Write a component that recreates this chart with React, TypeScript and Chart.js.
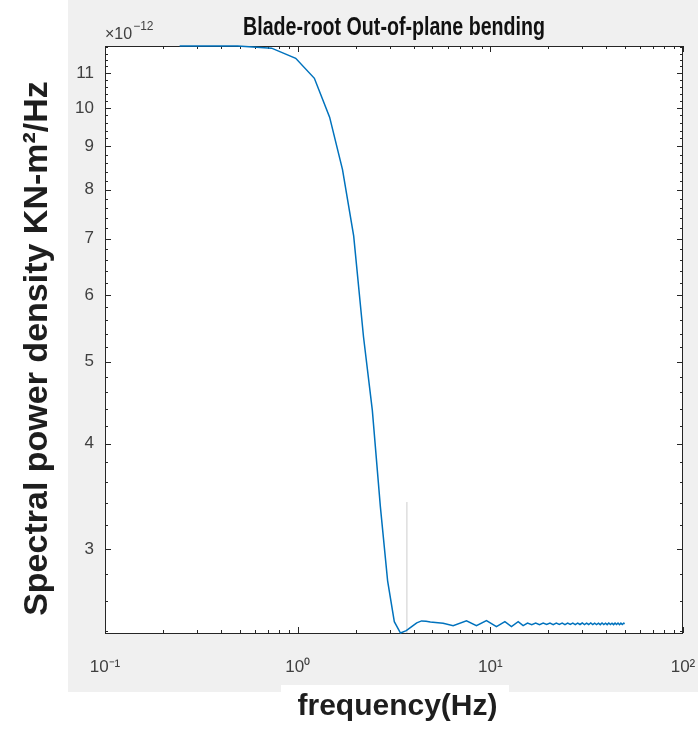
import React, { useEffect, useRef } from "react";
import { Chart, registerables } from "chart.js";

Chart.register(...registerables);

// ---- data (frequency in Hz, PSD in units of 1e-12 KN-m^2/Hz) ----
const FREQ_HZ = [
  0.244, 0.488, 0.732, 0.977, 1.221, 1.465, 1.709, 1.953, 2.197, 2.441,
  2.686, 2.93, 3.174, 3.418, 3.662, 3.906, 4.15, 4.395, 4.639, 4.883,
  5.69, 6.41, 7.52, 8.47, 9.55, 10.76, 11.9, 12.87, 13.95, 14.8,
  15.6, 16.4, 17.2, 18.0, 18.8, 19.6, 20.4, 21.2, 22.0, 22.8,
  23.6, 24.4, 25.2, 26.0, 26.8, 27.6, 28.4, 29.2, 30.0, 30.8,
  31.6, 32.4, 33.2, 34.0, 34.8, 35.6, 36.4, 37.2, 38.0, 38.8,
  39.6, 40.4, 41.2, 42.0, 42.8, 43.6, 44.4, 45.2, 46.0, 46.8,
  47.6, 48.4, 49.2, 49.8,
];
const PSD_E12 = [
  11.84, 11.84, 11.77, 11.45, 10.84, 9.75, 8.45, 7.05, 5.35, 4.38,
  3.37, 2.75, 2.46, 2.385, 2.4, 2.427, 2.452, 2.465, 2.462, 2.457,
  2.449, 2.433, 2.465, 2.433, 2.467, 2.427, 2.46, 2.427, 2.46, 2.433,
  2.45, 2.44, 2.451, 2.44, 2.45, 2.441, 2.451, 2.44, 2.45, 2.441,
  2.45, 2.44, 2.451, 2.441, 2.45, 2.44, 2.45, 2.441, 2.451, 2.44,
  2.45, 2.441, 2.451, 2.44, 2.45, 2.441, 2.45, 2.44, 2.451, 2.441,
  2.45, 2.44, 2.451, 2.441, 2.45, 2.44, 2.45, 2.441, 2.451, 2.44,
  2.45, 2.441, 2.45, 2.446,
];
// faint vertical marker visible in the original figure
const MARKER_FREQ = [3.69, 3.69];
const MARKER_PSD = [2.385, 3.41];

const X_MIN = 0.1;
const X_MAX = 100;
const Y_MIN = 2.385;
const Y_MAX = 11.84;
const X_TICKS = [0.1, 1, 10, 100];
const X_TICK_LABELS = ["10⁻¹", "10⁰", "10¹", "10²"];
const Y_TICKS = [3, 4, 5, 6, 7, 8, 9, 10, 11];
const Y_TICK_LABELS = ["3", "4", "5", "6", "7", "8", "9", "10", "11"];

const TITLE = "Blade-root Out-of-plane bending";
const X_TITLE = "frequency(Hz)";
const Y_TITLE = "Spectral power density KN-m²/Hz";

const W = 698;
const H = 729;

const decorPlugin = {
  id: "decor",
  beforeDraw(chart: any) {
    const { ctx, chartArea: a } = chart;
    ctx.save();
    ctx.fillStyle = "#ffffff";
    ctx.fillRect(0, 0, W, H);
    ctx.fillStyle = "#f0f0f0";
    ctx.fillRect(68, 0, W - 68, 692);
    ctx.fillStyle = "#ffffff";
    ctx.fillRect(281, 685, 228, 8);
    ctx.fillRect(a.left, a.top, a.right - a.left, a.bottom - a.top);
    ctx.restore();
  },
  beforeDatasetsDraw(chart: any) {
    const { ctx, chartArea: a, scales } = chart;
    const xs = scales.x;
    const ys = scales.y;
    ctx.save();
    ctx.strokeStyle = "#262626";
    ctx.lineWidth = 1;
    ctx.beginPath();
    const xt = (v: number, len: number) => {
      const p = Math.round(xs.getPixelForValue(v)) + 0.5;
      ctx.moveTo(p, a.bottom);
      ctx.lineTo(p, a.bottom - len);
      ctx.moveTo(p, a.top);
      ctx.lineTo(p, a.top + len);
    };
    const yt = (v: number, len: number) => {
      const p = Math.round(ys.getPixelForValue(v)) + 0.5;
      ctx.moveTo(a.left, p);
      ctx.lineTo(a.left + len, p);
      ctx.moveTo(a.right, p);
      ctx.lineTo(a.right - len, p);
    };
    for (let d = 0.1; d < 100; d *= 10) {
      for (let k = 2; k <= 9; k++) xt(d * k, 3);
    }
    X_TICKS.forEach((v) => xt(v, 6));
    for (let i = 12; i <= 59; i++) {
      const v = i / 5;
      if (v > Y_MIN && v < Y_MAX && Math.abs(v - Math.round(v)) > 1e-6) yt(v, 3);
    }
    Y_TICKS.forEach((v) => yt(v, 6));
    ctx.stroke();
    ctx.strokeRect(a.left + 0.5, a.top + 0.5, a.right - a.left - 1, a.bottom - a.top);
    ctx.restore();
  },
  afterDraw(chart: any) {
    const { ctx } = chart;
    ctx.save();
    // title (condensed bold)
    ctx.fillStyle = "#111111";
    ctx.font = 'bold 25px "Liberation Sans", Arial, sans-serif';
    ctx.textAlign = "center";
    ctx.textBaseline = "alphabetic";
    ctx.save();
    ctx.translate(394, 35);
    ctx.scale(0.785, 1);
    ctx.fillText(TITLE, 0, 0);
    ctx.restore();

    // exponent
    ctx.fillStyle = "#404040";
    ctx.textAlign = "left";
    ctx.font = '16px "Liberation Sans", Arial, sans-serif';
    ctx.fillText("×10", 105, 39);
    const w = ctx.measureText("×10").width;
    ctx.font = '12px "Liberation Sans", Arial, sans-serif';
    ctx.fillText("−12", 105 + w + 1, 30);

    // x title
    ctx.fillStyle = "#1e1e1e";
    ctx.font = 'bold 30px "Liberation Sans", Arial, sans-serif';
    ctx.textAlign = "center";
    ctx.fillText(X_TITLE, 397.5, 715);

    // y title
    ctx.save();
    ctx.translate(47, 348.5);
    ctx.rotate(-Math.PI / 2);
    ctx.font = 'bold 34px "Liberation Sans", Arial, sans-serif';
    ctx.fillText(Y_TITLE, 0, 0);
    ctx.restore();
    ctx.restore();
  },
};

export default function App() {
  const ref = useRef<HTMLCanvasElement | null>(null);
  useEffect(() => {
    document.body.style.margin = "0";
    const canvas = ref.current;
    if (!canvas) return;
    const chart = new Chart(canvas, {
      type: "line",
      data: {
        datasets: [
          {
            data: FREQ_HZ.map((f, i) => ({ x: f, y: PSD_E12[i] })),
            borderColor: "#0072BD",
            borderWidth: 1.5,
            pointRadius: 0,
            tension: 0,
            fill: false,
            clip: false as any,
          },
          {
            data: MARKER_FREQ.map((f, i) => ({ x: f, y: MARKER_PSD[i] })),
            borderColor: "#cdcdcd",
            borderWidth: 1,
            pointRadius: 0,
            tension: 0,
            fill: false,
          },
        ],
      },
      options: {
        animation: false,
        responsive: false,
        devicePixelRatio: 1,
        layout: { padding: { left: 0, top: 46, right: 15, bottom: 0 } },
        plugins: {
          legend: { display: false },
          tooltip: { enabled: false },
          title: { display: false },
        },
        scales: {
          x: {
            type: "logarithmic",
            min: X_MIN,
            max: X_MAX,
            offset: false,
            grid: { display: false, drawTicks: false, offset: false },
            border: { display: false },
            afterBuildTicks: (s: any) => {
              s.ticks = X_TICKS.map((v) => ({ value: v, major: true }));
            },
            afterFit: (s: any) => {
              s.height = H - 633;
              s.paddingLeft = 0;
              s.paddingRight = 0;
            },
            ticks: {
              autoSkip: false,
              maxRotation: 0,
              minRotation: 0,
              padding: 24,
              color: "#404040",
              font: { family: '"Liberation Sans", Arial, sans-serif', size: 17 },
              callback: (_v: any, i: number) => X_TICK_LABELS[i],
            },
          },
          y: {
            type: "logarithmic",
            min: Y_MIN,
            max: Y_MAX,
            grid: { display: false, drawTicks: false },
            border: { display: false },
            afterBuildTicks: (s: any) => {
              s.ticks = Y_TICKS.map((v) => ({ value: v, major: true }));
            },
            afterFit: (s: any) => {
              s.width = 105;
              s.paddingTop = 0;
              s.paddingBottom = 0;
            },
            ticks: {
              autoSkip: false,
              padding: 11,
              color: "#404040",
              font: { family: '"Liberation Sans", Arial, sans-serif', size: 17 },
              callback: (_v: any, i: number) => Y_TICK_LABELS[i],
            },
          },
        },
      } as any,
      plugins: [decorPlugin],
    });
    return () => chart.destroy();
  }, []);
  return (
    <canvas
      ref={ref}
      width={W}
      height={H}
      style={{ display: "block", width: W + "px", height: H + "px" }}
    />
  );
}
